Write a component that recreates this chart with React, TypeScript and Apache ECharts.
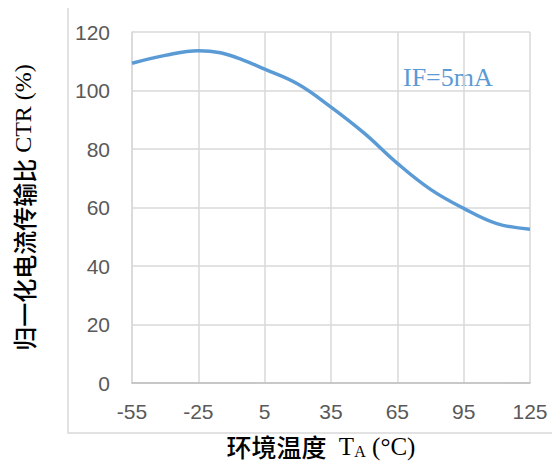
import React, { useEffect, useRef } from "react";
import * as echarts from "echarts";

const temps = [-55, -40, -25, -15, -5, 5, 20, 35, 50, 65, 80, 95, 110, 125];
const ctr = [109.3, 112.0, 113.6, 112.9, 110.5, 107.3, 102.2, 94.3, 85.4, 75.1, 66.2, 59.7, 54.5, 52.6];
const xTickStart = -55;
const xTickStep = 30;
const yTicks = [0, 20, 40, 60, 80, 100, 120];
const seriesLabel = "IF=5mA";

export default function App() {
  const ref = useRef<HTMLDivElement>(null);
  useEffect(() => {
    const chart = echarts.init(ref.current!, null, { renderer: "svg" });
    const data = temps.map((t, i) => [t - xTickStart, ctr[i]]);
    chart.setOption({
      animation: false,
      backgroundColor: "#ffffff",
      grid: { left: 132, right: 30, top: 32, bottom: 86 },
      xAxis: {
        type: "value",
        min: 0,
        max: 180,
        interval: xTickStep,
        axisLine: { show: true, lineStyle: { color: "#BFBFBF", width: 1.5 } },
        axisTick: { show: false },
        splitLine: { show: true, lineStyle: { color: "#D9D9D9", width: 1.5 } },
        axisLabel: {
          formatter: (v: number) => String(v + xTickStart),
          color: "#595959",
          fontSize: 21,
          fontFamily: "Liberation Sans",
          margin: 18,
        },
        name: "{cn|环境温度}{t|  T}{s|A}{t| (°C)}",
        nameLocation: "middle",
        nameGap: 50,
        nameTextStyle: {
          padding: [0, 20, 0, 0],
          rich: {
            cn: { fontFamily: "Noto Sans CJK SC", fontSize: 25, color: "#000", fontWeight: 500 },
            t: { fontFamily: "Liberation Serif", fontSize: 25, color: "#000" },
            s: { fontFamily: "Liberation Serif", fontSize: 16, color: "#000", verticalAlign: "bottom", padding: [10, 0, 0, 0] },
          },
        },
      },
      yAxis: {
        type: "value",
        min: yTicks[0],
        max: yTicks[yTicks.length - 1],
        interval: 20,
        axisLine: { show: true, lineStyle: { color: "#D9D9D9", width: 1.5 } },
        axisTick: { show: false },
        splitLine: { show: true, lineStyle: { color: "#D9D9D9", width: 1.5 } },
        axisLabel: {
          color: "#595959",
          fontSize: 21,
          fontFamily: "Liberation Sans",
          margin: 22,
        },
        name: "{cn|归一化电流传输比}{t| CTR (%)}",
        nameLocation: "middle",
        nameRotate: 90,
        nameGap: 97,
        nameTextStyle: {
          rich: {
            cn: { fontFamily: "Noto Sans CJK SC", fontSize: 24, color: "#000", fontWeight: 500 },
            t: { fontFamily: "Liberation Serif", fontSize: 24, color: "#000" },
          },
        },
      },
      graphic: [
        {
          type: "rect",
          shape: { x: 68, y: 7, width: 520, height: 426 },
          style: { fill: "none", stroke: "#D9D9D9", lineWidth: 1.5 },
          silent: true,
          z: -1,
        },
        {
          type: "text",
          left: 403,
          top: 64,
          style: {
            text: seriesLabel,
            fontFamily: "Liberation Serif",
            fontSize: 26,
            fill: "#5B9BD5",
          },
        },
      ],
      series: [
        {
          type: "line",
          data,
          smooth: 0.4,
          showSymbol: false,
          lineStyle: { color: "#5B9BD5", width: 3.5 },
        },
      ],
    });
    return () => chart.dispose();
  }, []);
  return <div ref={ref} style={{ width: 560, height: 469, margin: -8 }} />;
}
